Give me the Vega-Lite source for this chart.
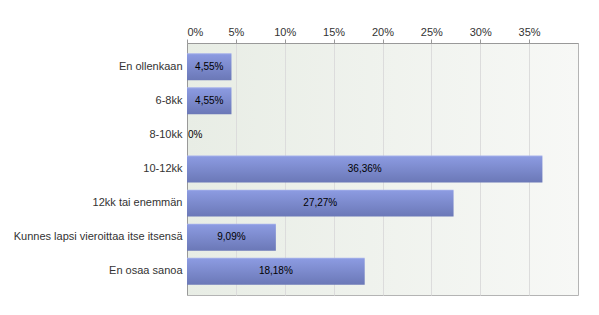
{
  "$schema": "https://vega.github.io/schema/vega-lite/v6.json",
  "width": 391,
  "height": 252,
  "autosize": {"type": "none"},
  "padding": {"left": 187, "top": 43, "right": 21, "bottom": 20},
  "background": "white",
  "config": {
    "view": {
      "stroke": "#b4b4b4", "strokeWidth": 1,
      "fill": {
        "gradient": "linear",
        "x1": 0, "y1": 0, "x2": 1, "y2": 0,
        "stops": [
          {"offset": 0, "color": "#e8ede5"},
          {"offset": 1, "color": "#f7f8f6"}
        ]
      }
    },
    "font": "Liberation Sans"
  },
  "datasets": {
    "answers": [
      {"answer": "En ollenkaan", "v": 4.55, "label": "4,55%"},
      {"answer": "6-8kk", "v": 4.55, "label": "4,55%"},
      {"answer": "8-10kk", "v": 0, "label": "0%"},
      {"answer": "10-12kk", "v": 36.36, "label": "36,36%"},
      {"answer": "12kk tai enemmän", "v": 27.27, "label": "27,27%"},
      {"answer": "Kunnes lapsi vieroittaa itse itsensä", "v": 9.09, "label": "9,09%"},
      {"answer": "En osaa sanoa", "v": 18.18, "label": "18,18%"}
    ]
  },
  "data": {"name": "answers"},
  "layer": [
    {
      "mark": {
        "type": "bar",
        "color": {
          "gradient": "linear",
          "x1": 0, "y1": 0, "x2": 0, "y2": 1,
          "stops": [
            {"offset": 0, "color": "#a9b4ec"},
            {"offset": 0.06, "color": "#8b9ae0"},
            {"offset": 1, "color": "#6b78b7"}
          ]
        }
      },
      "encoding": {
        "y": {
          "field": "answer", "type": "nominal", "sort": null,
          "scale": {"paddingInner": 0.21, "paddingOuter": 0.3},
          "axis": {
            "title": null, "ticks": false, "labelPadding": 5,
            "labelFontSize": 11, "labelColor": "#333333",
            "domainColor": "#999999", "labelFont": "Liberation Sans"
          }
        },
        "x": {
          "field": "v", "type": "quantitative",
          "scale": {"domain": [0, 40], "nice": false},
          "axis": {
            "orient": "top", "title": null,
            "values": [0, 5, 10, 15, 20, 25, 30, 35],
            "labelExpr": "datum.value + '%'",
            "labelFontSize": 11, "labelColor": "#333333",
            "labelPadding": 2, "tickSize": 4, "tickColor": "#999999",
            "domainColor": "#999999",
            "grid": true, "gridColor": "#dcdcdc", "labelFont": "Liberation Sans"
          }
        }
      }
    },
    {
      "transform": [{"filter": "datum.v > 0"}, {"calculate": "datum.v / 2", "as": "mid"}],
      "mark": {"type": "text", "align": "center", "baseline": "middle", "fontSize": 10, "color": "#000000", "font": "Liberation Sans"},
      "encoding": {
        "y": {"field": "answer", "type": "nominal", "sort": null},
        "x": {"field": "mid", "type": "quantitative"},
        "text": {"field": "label"}
      }
    },
    {
      "transform": [{"filter": "datum.v == 0"}],
      "mark": {"type": "text", "align": "left", "baseline": "middle", "dx": 1, "fontSize": 10, "color": "#000000", "font": "Liberation Sans"},
      "encoding": {
        "y": {"field": "answer", "type": "nominal", "sort": null},
        "x": {"field": "v", "type": "quantitative"},
        "text": {"field": "label"}
      }
    }
  ]
}
